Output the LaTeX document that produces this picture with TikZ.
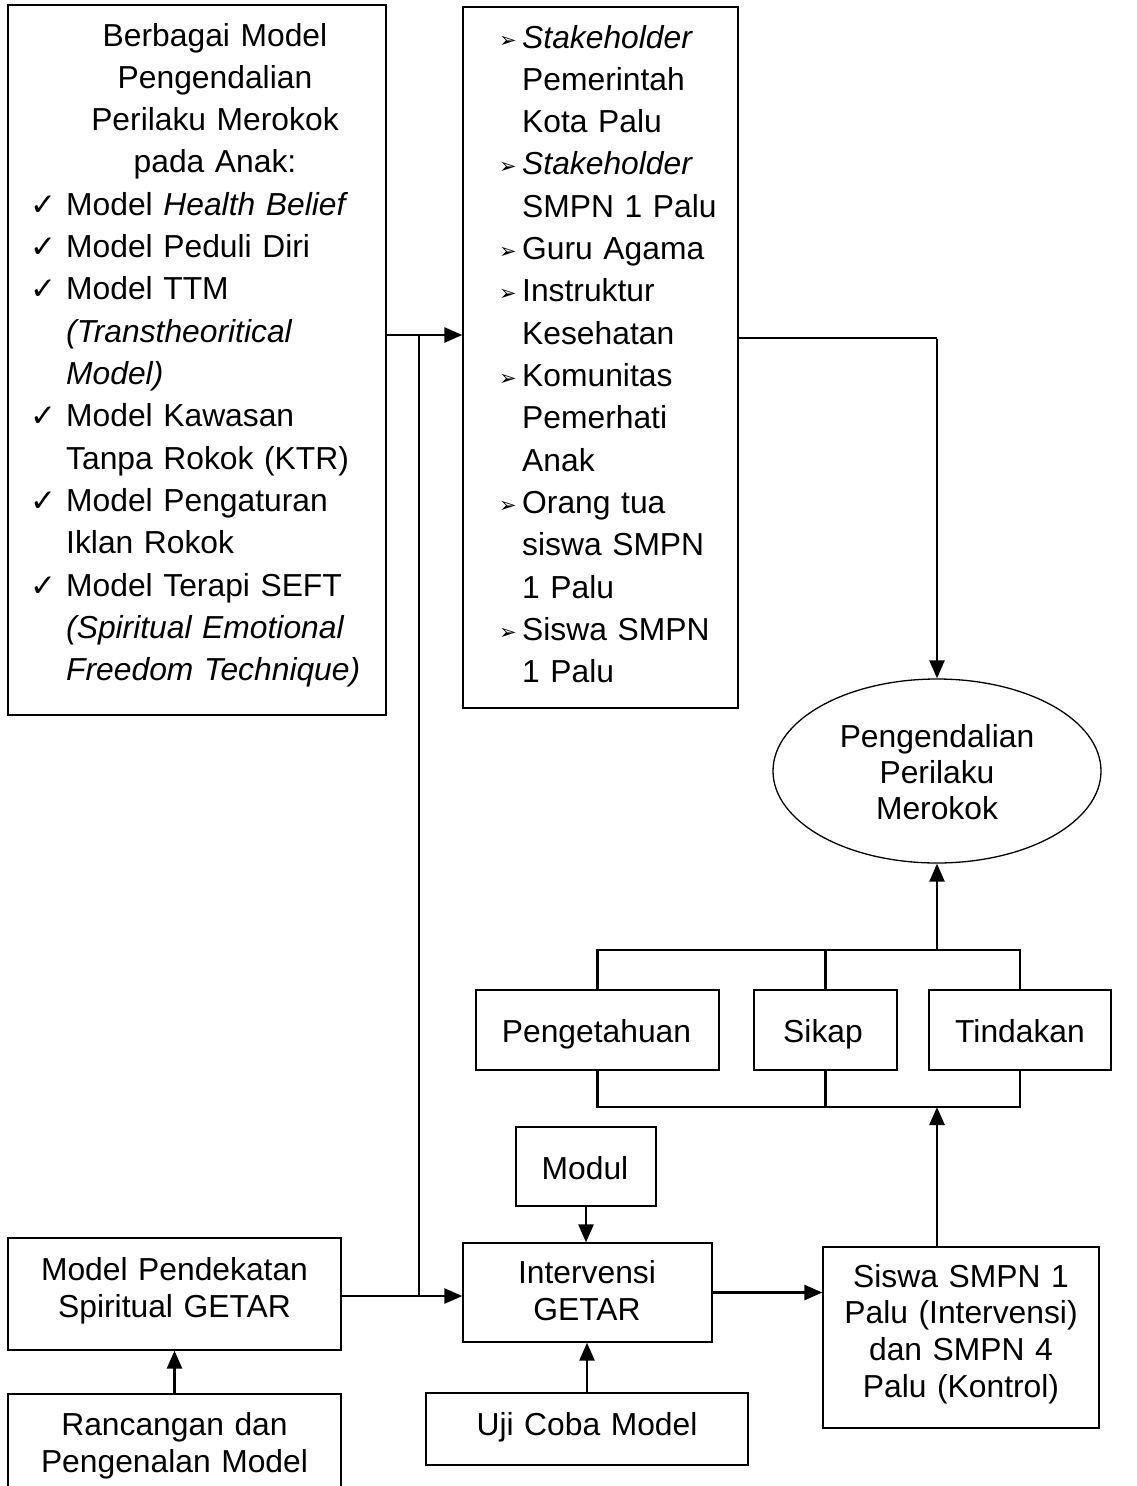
\documentclass[tikz,border=0pt]{standalone}
\usepackage{fontspec}
\setmainfont{Liberation Sans}
\newfontfamily\symfont{DejaVu Sans}
\usetikzlibrary{arrows.meta,shapes.geometric}
\newcommand{\chk}{\makebox[36pt][l]{\symfont\fontsize{31}{31}\selectfont ✓}}
\newcommand{\arw}{\makebox[23pt][l]{\hspace*{0pt}\raisebox{1pt}{\symfont\fontsize{21}{21}\selectfont ➢}}}
\newcommand{\ind}[1]{\hspace*{#1}}
\begin{document}
\begin{tikzpicture}[x=1pt,y=-1pt,
  box/.style={draw, line width=1.3pt, inner sep=0pt, rectangle},
  txt/.style={inner sep=0pt, anchor=base, align=center, font=\fontsize{31.8}{37}\selectfont},
  lst/.style={inner sep=0pt, anchor=base west, align=left, font=\fontsize{31.8}{42.33}\selectfont},
  conn/.style={line width=2.6pt},
  thinconn/.style={line width=1.3pt},
  arr/.style={conn, -{Triangle[length=18pt,width=15pt]}}]
\useasboundingbox (0,0) rectangle (1136,1486);
\clip (0,0) rectangle (1136,1486);

% boxes
\node[box, minimum width=378pt, minimum height=710pt] (b1) at (197,360) {};
\node[box, minimum width=275pt, minimum height=701pt] (b2) at (600.5,357.5) {};
\node[draw, line width=1.3pt, ellipse, inner sep=0pt, minimum width=328pt, minimum height=184pt] (ell) at (937,771) {};
\node[box, minimum width=243pt, minimum height=80pt] (peng) at (597.5,1030) {};
\node[box, minimum width=143pt, minimum height=80pt] (sikap) at (825.5,1030) {};
\node[box, minimum width=182pt, minimum height=80pt] (tind) at (1020,1030) {};
\node[box, minimum width=140pt, minimum height=79pt] (modul) at (586,1166.5) {};
\node[box, minimum width=249pt, minimum height=99pt] (ig) at (587.5,1292.5) {};
\node[box, minimum width=276pt, minimum height=181pt] (siswa) at (961,1337.5) {};
\node[box, minimum width=322pt, minimum height=72pt] (uji) at (587,1429) {};
\node[box, minimum width=333pt, minimum height=112pt] (mp) at (174.5,1294) {};
\node[box, minimum width=333pt, minimum height=110pt] (ranc) at (174.5,1449) {};

% texts
\node[lst, anchor=base, align=center, text width=320pt] (t1) at (215,46)
  {Berbagai Model\\Pengendalian\\Perilaku Merokok\\pada Anak:};
\node[lst, text width=360pt] (t2) at (30,215.3)
  {\chk Model \textit{Health Belief}\\
   \chk Model Peduli Diri\\
   \chk Model TTM\\
   \ind{36pt}\textit{(Transtheoritical}\\
   \ind{36pt}\textit{Model)}\\
   \chk Model Kawasan\\
   \ind{36pt}Tanpa Rokok (KTR)\\
   \chk Model Pengaturan\\
   \ind{36pt}Iklan Rokok\\
   \chk Model Terapi SEFT\\
   \ind{36pt}\textit{(Spiritual Emotional}\\
   \ind{36pt}\textit{Freedom Technique)}};
\node[lst, text width=235pt] (t3) at (499,48)
  {\arw\textit{Stakeholder}\\
   \ind{23pt}Pemerintah\\
   \ind{23pt}Kota Palu\\
   \arw\textit{Stakeholder}\\
   \ind{23pt}SMPN 1 Palu\\
   \arw Guru Agama\\
   \arw Instruktur\\
   \ind{23pt}Kesehatan\\
   \arw Komunitas\\
   \ind{23pt}Pemerhati\\
   \ind{23pt}Anak\\
   \arw Orang tua\\
   \ind{23pt}siswa SMPN\\
   \ind{23pt}1 Palu\\
   \arw Siswa SMPN\\
   \ind{23pt}1 Palu};
\node[txt, text width=280pt, font=\fontsize{31.8}{36}\selectfont] (t4) at (937,747) {Pengendalian\\Perilaku\\Merokok};
\node[txt, text width=240pt] (t5) at (596.5,1042) {Pengetahuan};
\node[txt, text width=140pt] (t6) at (823,1042) {Sikap};
\node[txt, text width=180pt] (t7) at (1020,1042) {Tindakan};
\node[txt, text width=140pt] (t8) at (585,1179) {Modul};
\node[txt, text width=240pt] (t9) at (587,1283) {Intervensi\\GETAR};
\node[txt, text width=276pt, font=\fontsize{31.8}{36.7}\selectfont] (t10) at (961,1287) {Siswa SMPN 1\\Palu (Intervensi)\\dan SMPN 4\\Palu (Kontrol)};
\node[txt, text width=320pt] (t11) at (587,1435) {Uji Coba Model};
\node[txt, text width=330pt] (t12) at (174.5,1280) {Model Pendekatan\\Spiritual GETAR};
\node[txt, text width=330pt] (t13) at (174.5,1435) {Rancangan dan\\Pengenalan Model};

% connectors
\coordinate (j1) at (419,335);
\coordinate (j2) at (419,1296);
\coordinate (k) at (937,338);
\coordinate (ltop) at (937,950);
\coordinate (lbot) at (937,1107);

\draw[arr] (b1.east |- j1) -- (b2.west |- j1);
\draw[conn] (j1) -- (j2);
\draw[arr] (mp.east |- j2) -- (ig.west |- j2);
\draw[thinconn] (b2.east |- k) -- (k);
\draw[arr] ([yshift=-0.6pt]k) -- (ell.north);

\draw[conn] (peng.north) -- (peng.north |- ltop) -- (tind.north |- ltop) -- (tind.north);
\draw[conn] (sikap.north) -- (sikap.north |- ltop);
\draw[arr] (ltop) -- (ell.south);

\draw[conn] (peng.south) -- (peng.south |- lbot) -- (tind.south |- lbot) -- (tind.south);
\draw[conn] (sikap.south) -- (sikap.south |- lbot);
\draw[arr] (siswa.north -| lbot) -- (lbot);

\draw[arr] (modul.south) -- (modul.south |- ig.north);
\draw[arr] (uji.north) -- (uji.north |- ig.south);
\draw[arr] (ig.east) -- (ig.east -| siswa.west);
\draw[arr] (ranc.north) -- (mp.south);
\end{tikzpicture}
\end{document}
